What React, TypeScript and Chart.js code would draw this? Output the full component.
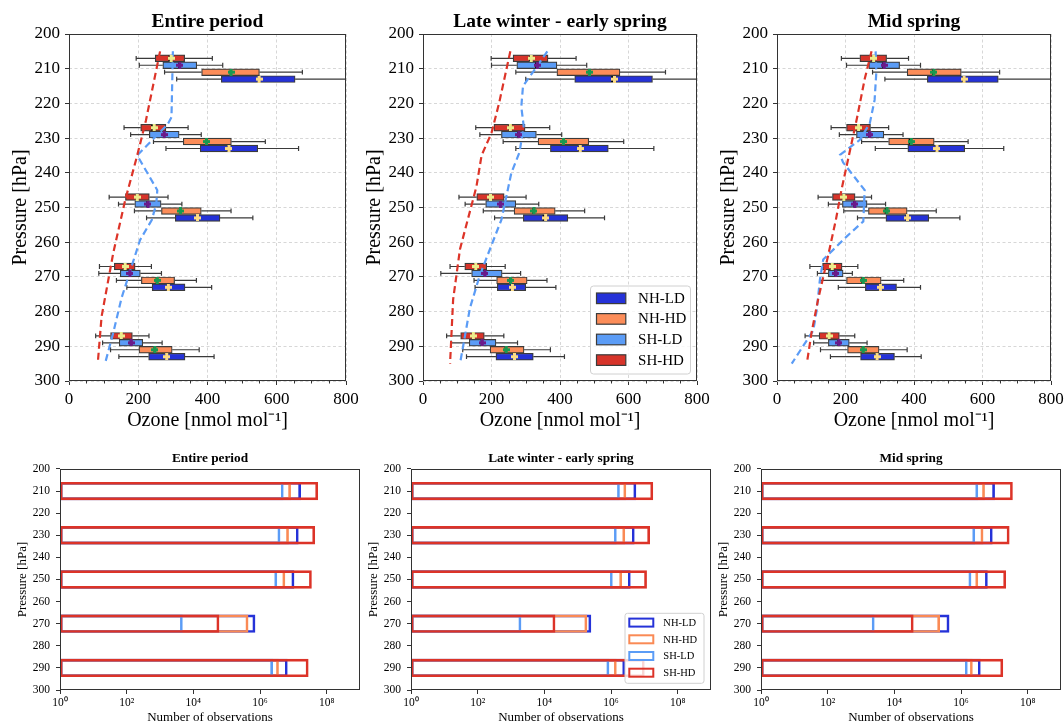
import React, { useEffect, useRef } from 'react';
import { Chart, registerables } from 'chart.js';

Chart.register(...registerables);

const FONT_FAMILY = '"Liberation Serif", "Times New Roman", Times, serif';
Chart.defaults.font.family = FONT_FAMILY;
Chart.defaults.color = '#000';

// ---------------- data ----------------
const LEVELS = [210, 230, 250, 270, 290];
const CATEGORIES = ['NH-LD', 'NH-HD', 'SH-LD', 'SH-HD'];
const OZONE_TICKS = [0, 200, 400, 600, 800];
const PRESSURE_TICKS = [200, 210, 220, 230, 240, 250, 260, 270, 280, 290, 300];
const COUNT_TICKS = [1, 1e2, 1e4, 1e6, 1e8];
const PANEL_TITLES = ['Entire period', 'Late winter - early spring', 'Mid spring'];

// box statistics per level: [whisker low, Q1, median, Q3, whisker high, mean]  (nmol/mol)
const ENTIRE_NH_LD = [[311, 440, 548, 653, 830, 549], [280, 379, 460, 545, 663, 462], [224, 307, 369, 436, 531, 371], [167, 240, 285, 335, 412, 287], [144, 230, 280, 335, 419, 282]];
const ENTIRE_NH_HD = [[276, 383, 467, 550, 674, 468], [244, 330, 396, 469, 567, 397], [189, 267, 320, 382, 468, 322], [137, 209, 253, 305, 368, 255], [120, 202, 247, 298, 376, 248]];
const ENTIRE_SH_LD = [[203, 271, 318, 369, 444, 320], [178, 232, 274, 318, 382, 275], [143, 190, 226, 266, 326, 228], [86, 148, 175, 206, 267, 176], [97, 145, 178, 213, 269, 180]];
const ENTIRE_SH_HD = [[194, 249, 290, 334, 414, 295], [159, 207, 240, 280, 344, 246], [116, 163, 195, 232, 286, 197], [88, 131, 160, 191, 238, 162], [77, 120, 150, 183, 231, 151]];

const LATE_NH_LD = [[300, 443, 552, 670, 830, 559], [271, 372, 456, 541, 674, 459], [209, 293, 352, 423, 530, 358], [152, 217, 258, 300, 388, 261], [127, 213, 265, 322, 413, 267]];
const LATE_NH_HD = [[271, 391, 484, 575, 708, 486], [234, 336, 410, 484, 586, 410], [176, 266, 322, 386, 472, 324], [149, 215, 254, 304, 362, 256], [116, 196, 241, 295, 372, 243]];
const LATE_SH_LD = [[200, 274, 330, 391, 478, 334], [166, 229, 278, 331, 405, 280], [123, 183, 225, 271, 338, 226], [52, 142, 180, 231, 285, 181], [82, 135, 171, 213, 276, 173]];
const LATE_SH_HD = [[199, 263, 312, 365, 447, 316], [154, 207, 252, 298, 370, 255], [105, 157, 195, 237, 301, 197], [79, 122, 152, 186, 240, 154], [69, 110, 145, 179, 236, 147]];

const MID_NH_LD = [[315, 439, 543, 646, 830, 546], [287, 382, 465, 548, 662, 467], [235, 318, 378, 443, 534, 381], [179, 258, 300, 349, 419, 302], [156, 244, 290, 343, 421, 292]];
const MID_NH_HD = [[279, 380, 455, 538, 650, 458], [247, 326, 387, 459, 558, 392], [195, 267, 317, 380, 465, 321], [125, 203, 249, 304, 370, 252], [127, 206, 250, 298, 380, 252]];
const MID_SH_LD = [[203, 268, 310, 358, 419, 313], [182, 232, 269, 312, 368, 271], [150, 191, 225, 263, 317, 227], [118, 150, 170, 193, 220, 172], [107, 150, 179, 211, 263, 181]];
const MID_SH_HD = [[188, 242, 279, 320, 384, 282], [158, 203, 236, 273, 326, 238], [120, 162, 193, 228, 276, 195], [96, 133, 159, 190, 236, 161], [82, 123, 150, 182, 227, 152]];

// dashed profiles: [pressure hPa, ozone nmol/mol]
const ENTIRE_SHHD_PROFILE = [[205, 263], [225, 222], [235, 197], [248, 162], [263, 128], [281.5, 94], [295, 83]];
const ENTIRE_SHLD_PROFILE = [[205, 300], [224, 296], [226, 285], [235, 197], [245, 255], [249, 252], [253.6, 239], [259.4, 205], [276, 152], [286, 128], [295, 104]];
const LATE_SHHD_PROFILE = [[205, 255], [220, 222], [228.5, 200], [235, 171], [244, 156], [253, 132], [262, 108], [276.5, 88], [295, 79]];
const LATE_SHLD_PROFILE = [[205, 363], [211, 321], [215, 292], [221, 287], [226.5, 294], [234, 282], [240, 258], [253.5, 229], [269.5, 166], [279, 137], [295, 108]];
const MID_SHHD_PROFILE = [[205, 276], [213, 256], [224, 234], [235, 210], [245, 188], [253.5, 172], [264, 149], [276.5, 120], [286, 101], [295, 87]];
const MID_SHLD_PROFILE = [[205, 288], [211, 290], [219, 285], [225.7, 271], [230.5, 242], [234.8, 184], [237, 193], [245, 256], [254, 252], [258.4, 203], [265, 135], [271, 125], [279.6, 116], [285.4, 106], [295, 43]];

// number of observations per level
const ENTIRE_COUNT_NH_LD = [1.66e7, 1.41e7, 1.05e7, 7.1e5, 6.6e6];
const ENTIRE_COUNT_NH_HD = [8.3e6, 7.2e6, 5.6e6, 4.4e5, 3.6e6];
const ENTIRE_COUNT_SH_LD = [5.0e6, 4.0e6, 3.2e6, 4.7e3, 2.4e6];
const ENTIRE_COUNT_SH_HD = [5.4e7, 4.4e7, 3.5e7, 5.9e4, 2.8e7];

const LATE_COUNT_NH_LD = [5.6e6, 5.0e6, 3.8e6, 2.5e5, 2.6e6];
const LATE_COUNT_NH_HD = [2.8e6, 2.6e6, 2.1e6, 1.9e5, 1.45e6];
const LATE_COUNT_SH_LD = [1.8e6, 1.45e6, 1.1e6, 2.0e3, 8.7e5];
const LATE_COUNT_SH_HD = [1.8e7, 1.45e7, 1.17e7, 2.1e4, 1.0e7];

const MID_COUNT_NH_LD = [1.02e7, 8.7e6, 6.2e6, 4.4e5, 3.8e6];
const MID_COUNT_NH_HD = [5.1e6, 4.6e6, 3.2e6, 2.3e5, 2.2e6];
const MID_COUNT_SH_LD = [3.2e6, 2.6e6, 2.0e6, 2.5e3, 1.55e6];
const MID_COUNT_SH_HD = [3.5e7, 2.8e7, 2.2e7, 3.7e4, 1.8e7];

// ---------------- styles ----------------
const BOX_COLOR: any = { 'NH-LD': '#2532d8', 'NH-HD': '#fc8d59', 'SH-LD': '#5b9cf6', 'SH-HD': '#d7342a' };
const OUTLINE_COLOR: any = { 'NH-LD': '#2532d8', 'NH-HD': '#fa8a55', 'SH-LD': '#5b9cf6', 'SH-HD': '#dc3328' };
const MEAN_COLOR: any = { 'NH-LD': '#fcdc84', 'NH-HD': '#1a9850', 'SH-LD': '#6a1b8a', 'SH-HD': '#ecec8c' };
const BOX_OFFSET: any = { 'NH-LD': 3, 'NH-HD': 1, 'SH-LD': -1, 'SH-HD': -3 };
const DRAW_ORDER: any = { 'NH-LD': 3, 'NH-HD': 2, 'SH-LD': 1, 'SH-HD': 0 };
const RED_LINE = '#dd3428';
const BLUE_LINE = '#5b9cf6';
const FRAME = '#333333';

const TOP_LAYOUT = [{ x: 0, w: 366 }, { x: 354, w: 363 }, { x: 708, w: 363 }];
const BOTTOM_LAYOUT = [{ x: 0, w: 365 }, { x: 351, w: 365 }, { x: 701, w: 365 }];

const TOP_STATS = [
  { 'NH-LD': ENTIRE_NH_LD, 'NH-HD': ENTIRE_NH_HD, 'SH-LD': ENTIRE_SH_LD, 'SH-HD': ENTIRE_SH_HD },
  { 'NH-LD': LATE_NH_LD, 'NH-HD': LATE_NH_HD, 'SH-LD': LATE_SH_LD, 'SH-HD': LATE_SH_HD },
  { 'NH-LD': MID_NH_LD, 'NH-HD': MID_NH_HD, 'SH-LD': MID_SH_LD, 'SH-HD': MID_SH_HD },
];
const TOP_PROFILES = [
  [ENTIRE_SHHD_PROFILE, ENTIRE_SHLD_PROFILE],
  [LATE_SHHD_PROFILE, LATE_SHLD_PROFILE],
  [MID_SHHD_PROFILE, MID_SHLD_PROFILE],
];
const BOTTOM_COUNTS = [
  { 'NH-LD': ENTIRE_COUNT_NH_LD, 'NH-HD': ENTIRE_COUNT_NH_HD, 'SH-LD': ENTIRE_COUNT_SH_LD, 'SH-HD': ENTIRE_COUNT_SH_HD },
  { 'NH-LD': LATE_COUNT_NH_LD, 'NH-HD': LATE_COUNT_NH_HD, 'SH-LD': LATE_COUNT_SH_LD, 'SH-HD': LATE_COUNT_SH_HD },
  { 'NH-LD': MID_COUNT_NH_LD, 'NH-HD': MID_COUNT_NH_HD, 'SH-LD': MID_COUNT_SH_LD, 'SH-HD': MID_COUNT_SH_HD },
];

const SUP = ['⁰', '¹', '²', '³', '⁴', '⁵', '⁶', '⁷', '⁸', '⁹'];
const supText = (n: number) => String(n).split('').map((d) => SUP[+d]).join('');

function plusMarker(color: string) {
  const c = document.createElement('canvas');
  c.width = 7;
  c.height = 7;
  const g = c.getContext('2d')!;
  g.fillStyle = color;
  g.fillRect(2, 0, 3, 7);
  g.fillRect(0, 2, 7, 3);
  return c;
}

// ---------------- plugins ----------------
const framePlugin = {
  id: 'frame',
  afterDraw(chart: any) {
    const { ctx, chartArea: a } = chart;
    ctx.save();
    ctx.strokeStyle = FRAME;
    ctx.lineWidth = 1;
    const l = Math.round(a.left) + 0.5, t = Math.round(a.top) + 0.5;
    const r = Math.round(a.right) - 0.5, b = Math.round(a.bottom) - 0.5;
    ctx.strokeRect(l, t, r - l, b - t);
    ctx.restore();
  },
};

const minorTickPlugin = {
  id: 'minorTicks',
  afterDraw(chart: any) {
    const { ctx, chartArea: a, scales } = chart;
    ctx.save();
    ctx.strokeStyle = FRAME;
    ctx.lineWidth = 1;
    for (let v = 50; v < 800; v += 50) {
      if (v % 200 === 0) continue;
      const px = Math.round(scales.x.getPixelForValue(v)) + 0.5;
      ctx.beginPath();
      ctx.moveTo(px, a.bottom);
      ctx.lineTo(px, a.bottom + 2.5);
      ctx.stroke();
    }
    ctx.restore();
  },
};

const BOX_HALF = 3.4;
const boxPlugin = {
  id: 'boxParts',
  beforeDatasetsDraw(chart: any) {
    const { ctx, chartArea: a, scales } = chart;
    ctx.save();
    ctx.beginPath();
    ctx.rect(a.left, a.top, a.right - a.left, a.bottom - a.top);
    ctx.clip();
    ctx.strokeStyle = '#3a3a3a';
    ctx.lineWidth = 1.2;
    chart.data.datasets.forEach((ds: any) => {
      if (!ds.boxStats) return;
      ds.boxStats.forEach((s: number[], i: number) => {
        const py = scales.y.getPixelForValue(ds.data[i].y);
        const [wl, q1, , q3, wh] = s;
        const xwl = scales.x.getPixelForValue(wl);
        const xq1 = scales.x.getPixelForValue(q1);
        const xq3 = scales.x.getPixelForValue(q3);
        const xwh = scales.x.getPixelForValue(wh);
        ctx.beginPath();
        ctx.moveTo(xwl, py);
        ctx.lineTo(xq1, py);
        ctx.moveTo(xq3, py);
        ctx.lineTo(xwh, py);
        ctx.moveTo(xwl, py - 2.4);
        ctx.lineTo(xwl, py + 2.4);
        ctx.moveTo(xwh, py - 2.4);
        ctx.lineTo(xwh, py + 2.4);
        ctx.stroke();
      });
    });
    ctx.restore();
  },
  afterDatasetDraw(chart: any, args: any) {
    const ds = chart.data.datasets[args.index];
    if (!ds || !ds.boxStats) return;
    const { ctx, scales } = chart;
    ctx.save();
    ctx.strokeStyle = '#000';
    ctx.lineWidth = 1.8;
    ds.boxStats.forEach((s: number[], i: number) => {
      const py = scales.y.getPixelForValue(ds.data[i].y);
      const xm = scales.x.getPixelForValue(s[2]);
      ctx.beginPath();
      ctx.moveTo(xm, py - BOX_HALF + 0.6);
      ctx.lineTo(xm, py + BOX_HALF - 0.6);
      ctx.stroke();
    });
    ctx.restore();
  },
};

function roundRectPath(ctx: any, x: number, y: number, w: number, h: number, r: number) {
  ctx.beginPath();
  ctx.moveTo(x + r, y);
  ctx.lineTo(x + w - r, y);
  ctx.quadraticCurveTo(x + w, y, x + w, y + r);
  ctx.lineTo(x + w, y + h - r);
  ctx.quadraticCurveTo(x + w, y + h, x + w - r, y + h);
  ctx.lineTo(x + r, y + h);
  ctx.quadraticCurveTo(x, y + h, x, y + h - r);
  ctx.lineTo(x, y + r);
  ctx.quadraticCurveTo(x, y, x + r, y);
  ctx.closePath();
}

const topLegendPlugin = {
  id: 'topLegend',
  afterDraw(chart: any) {
    const { ctx, chartArea: a } = chart;
    const w = 100, h = 88;
    const x0 = a.right - 6.5 - w, y0 = a.bottom - 7 - h;
    ctx.save();
    roundRectPath(ctx, x0, y0, w, h, 3);
    ctx.fillStyle = 'rgba(255,255,255,0.8)';
    ctx.fill();
    ctx.strokeStyle = '#d0d0d0';
    ctx.lineWidth = 1;
    ctx.stroke();
    const items = chart.data.datasets.filter((d: any) => d.boxStats);
    items.forEach((ds: any, i: number) => {
      const cy = y0 + 12.3 + i * 20.6;
      ctx.fillStyle = ds.backgroundColor;
      ctx.fillRect(x0 + 6, cy - 5.3, 29.3, 10.6);
      ctx.strokeStyle = '#3b3b3b';
      ctx.lineWidth = 1.2;
      ctx.strokeRect(x0 + 6, cy - 5.3, 29.3, 10.6);
      ctx.fillStyle = '#000';
      ctx.font = `15px ${FONT_FAMILY}`;
      ctx.textBaseline = 'middle';
      ctx.textAlign = 'left';
      ctx.fillText(ds.label, x0 + 47.6, cy + 0.5);
    });
    ctx.restore();
  },
};

const bottomLegendPlugin = {
  id: 'bottomLegend',
  afterDraw(chart: any) {
    const { ctx, chartArea: a } = chart;
    const w = 79, h = 70;
    const x0 = a.right - 7 - w, y0 = a.bottom - 6.7 - h;
    ctx.save();
    roundRectPath(ctx, x0, y0, w, h, 2.5);
    ctx.fillStyle = 'rgba(255,255,255,0.8)';
    ctx.fill();
    ctx.strokeStyle = '#d0d0d0';
    ctx.lineWidth = 1;
    ctx.stroke();
    const byLabel: any = {};
    chart.data.datasets.forEach((d: any) => (byLabel[d.label] = d));
    CATEGORIES.forEach((cat, i) => {
      const ds = byLabel[cat];
      const cy = y0 + 9.3 + i * 16.7;
      ctx.strokeStyle = ds.borderColor;
      ctx.lineWidth = 2;
      ctx.strokeRect(x0 + 4.3, cy - 4, 24, 8);
      ctx.fillStyle = '#000';
      ctx.font = `10.5px ${FONT_FAMILY}`;
      ctx.textBaseline = 'middle';
      ctx.textAlign = 'left';
      ctx.fillText(cat, x0 + 38.3, cy + 0.5);
    });
    ctx.restore();
  },
};

// ---------------- configs ----------------
function topConfig(idx: number, markers: any) {
  const stats: any = TOP_STATS[idx];
  const [redProfile, blueProfile] = TOP_PROFILES[idx];
  const datasets: any[] = [];
  CATEGORIES.forEach((cat) => {
    const s = stats[cat];
    datasets.push({
      type: 'bar',
      label: cat,
      data: LEVELS.map((lv, i) => ({ y: lv + BOX_OFFSET[cat], x: [s[i][1], s[i][3]] })),
      boxStats: s,
      backgroundColor: BOX_COLOR[cat],
      borderColor: '#3b3b3b',
      borderWidth: 1.2,
      borderSkipped: false,
      grouped: false,
      barPercentage: 1,
      categoryPercentage: 1,
      maxBarThickness: BOX_HALF * 2,
      order: 3,
    });
  });
  [[redProfile, RED_LINE], [blueProfile, BLUE_LINE]].forEach(([prof, color]: any) => {
    datasets.push({
      type: 'line',
      label: '',
      data: prof.map((p: number[]) => ({ x: p[1], y: p[0] })),
      borderColor: color,
      borderWidth: 2.2,
      borderDash: [7, 4],
      pointRadius: 0,
      fill: false,
      tension: 0,
      order: 1,
    });
  });
  CATEGORIES.forEach((cat) => {
    const s = stats[cat];
    datasets.push({
      type: 'scatter',
      label: '',
      data: LEVELS.map((lv, i) => ({ x: s[i][5], y: lv + BOX_OFFSET[cat] })),
      pointStyle: markers[cat],
      pointRadius: 4,
      order: 0,
    });
  });
  const plugins: any[] = [boxPlugin, framePlugin, minorTickPlugin];
  if (idx === 1) plugins.push(topLegendPlugin);
  return {
    type: 'bar',
    data: { datasets },
    options: {
      animation: false,
      responsive: false,
      maintainAspectRatio: false,
      indexAxis: 'y',
      events: [],
      layout: { padding: { left: 0, right: 20, top: 0, bottom: 4 } },
      plugins: {
        legend: { display: false },
        tooltip: { enabled: false },
        title: {
          display: true,
          text: PANEL_TITLES[idx],
          fullSize: false,
          color: '#000',
          font: { size: 19.5, weight: 'bold' },
          padding: { top: 9.8, bottom: 0.8 },
        },
      },
      scales: {
        x: {
          type: 'linear',
          position: 'bottom',
          min: 0,
          max: 800,
          offset: false,
          afterBuildTicks: (ax: any) => { ax.ticks = OZONE_TICKS.map((v) => ({ value: v })); },
          afterFit: (s: any) => { s.height = 55; },
          ticks: { font: { size: 17 }, color: '#000', padding: 4, maxRotation: 0, autoSkip: false },
          grid: { color: '#cdcdcd', lineWidth: 0.8, tickColor: FRAME, tickLength: 4, tickWidth: 1, offset: false },
          border: { display: false, dash: [3, 2.5] },
          title: { display: true, text: 'Ozone [nmol mol⁻¹]', color: '#000', font: { size: 20 }, padding: { top: 0, bottom: 3 } },
        },
        y: {
          type: 'linear',
          position: 'left',
          min: 200,
          max: 300,
          reverse: true,
          offset: false,
          afterBuildTicks: (ax: any) => { ax.ticks = PRESSURE_TICKS.map((v) => ({ value: v })); },
          afterFit: (s: any) => { s.width = 69; },
          ticks: { font: { size: 17 }, color: '#000', padding: 5, autoSkip: false },
          grid: { color: '#cdcdcd', lineWidth: 0.8, tickColor: FRAME, tickLength: 4, tickWidth: 1, offset: false },
          border: { display: false, dash: [3, 2.5] },
          title: { display: true, text: 'Pressure [hPa]', color: '#000', font: { size: 20 }, padding: { top: 9, bottom: 0 } },
        },
      },
    },
    plugins,
  };
}

function bottomConfig(idx: number) {
  const counts: any = BOTTOM_COUNTS[idx];
  const datasets = CATEGORIES.map((cat) => ({
    type: 'bar',
    label: cat,
    data: LEVELS.map((lv, i) => ({ y: lv, x: [1, counts[cat][i]] })),
    backgroundColor: 'rgba(0,0,0,0)',
    borderColor: OUTLINE_COLOR[cat],
    borderWidth: 2,
    borderSkipped: false,
    grouped: false,
    barPercentage: 1,
    categoryPercentage: 1,
    maxBarThickness: 17.7,
    order: DRAW_ORDER[cat],
  }));
  const plugins: any[] = [framePlugin];
  if (idx === 1) plugins.push(bottomLegendPlugin);
  return {
    type: 'bar',
    data: { datasets },
    options: {
      animation: false,
      responsive: false,
      maintainAspectRatio: false,
      indexAxis: 'y',
      events: [],
      layout: { padding: { left: 0, right: 5, top: 0, bottom: 1 } },
      plugins: {
        legend: { display: false },
        tooltip: { enabled: false },
        title: {
          display: true,
          text: PANEL_TITLES[idx],
          fullSize: false,
          color: '#000',
          font: { size: 13.3, weight: 'bold' },
          padding: { top: 10.3, bottom: 2.7 },
        },
      },
      scales: {
        x: {
          type: 'logarithmic',
          position: 'bottom',
          min: 1,
          max: 1e9,
          offset: false,
          afterBuildTicks: (ax: any) => { ax.ticks = COUNT_TICKS.map((v) => ({ value: v })); },
          afterFit: (s: any) => { s.height = 36; },
          ticks: {
            font: { size: 11.5 },
            color: '#000',
            padding: 2.5,
            maxRotation: 0,
            autoSkip: false,
            callback: (v: any) => '10' + supText(Math.round(Math.log10(v))),
          },
          grid: { drawOnChartArea: false, tickColor: FRAME, tickLength: 4, tickWidth: 1, offset: false },
          border: { display: false },
          title: { display: true, text: 'Number of observations', color: '#000', font: { size: 13 }, padding: { top: 0, bottom: 0.2 } },
        },
        y: {
          type: 'linear',
          position: 'left',
          min: 200,
          max: 300,
          reverse: true,
          offset: false,
          afterBuildTicks: (ax: any) => { ax.ticks = PRESSURE_TICKS.map((v) => ({ value: v })); },
          afterFit: (s: any) => { s.width = 60; },
          ticks: { font: { size: 11.5 }, color: '#000', padding: 6, autoSkip: false },
          grid: { drawOnChartArea: false, tickColor: FRAME, tickLength: 4, tickWidth: 1, offset: false },
          border: { display: false },
          title: { display: true, text: 'Pressure [hPa]', color: '#000', font: { size: 13 }, padding: { top: 15.2, bottom: 0 } },
        },
      },
    },
    plugins,
  };
}

export default function App() {
  const topRefs = useRef<(HTMLCanvasElement | null)[]>([]);
  const bottomRefs = useRef<(HTMLCanvasElement | null)[]>([]);

  useEffect(() => {
    const markers: any = {};
    CATEGORIES.forEach((c) => (markers[c] = plusMarker(MEAN_COLOR[c])));
    const charts: Chart[] = [];
    TOP_LAYOUT.forEach((_, i) => {
      const el = topRefs.current[i];
      if (el) charts.push(new Chart(el, topConfig(i, markers) as any));
    });
    BOTTOM_LAYOUT.forEach((_, i) => {
      const el = bottomRefs.current[i];
      if (el) charts.push(new Chart(el, bottomConfig(i) as any));
    });
    return () => charts.forEach((c) => c.destroy());
  }, []);

  return (
    <div style={{ position: 'fixed', left: 0, top: 0, width: 1064, height: 727, overflow: 'hidden', background: '#fff' }}>
      {TOP_LAYOUT.map((l, i) => (
        <canvas
          key={'t' + i}
          ref={(el) => { topRefs.current[i] = el; }}
          width={l.w}
          height={440}
          style={{ position: 'absolute', left: l.x, top: 0, width: l.w, height: 440 }}
        />
      ))}
      {BOTTOM_LAYOUT.map((l, i) => (
        <canvas
          key={'b' + i}
          ref={(el) => { bottomRefs.current[i] = el; }}
          width={l.w}
          height={287}
          style={{ position: 'absolute', left: l.x, top: 440, width: l.w, height: 287 }}
        />
      ))}
    </div>
  );
}
